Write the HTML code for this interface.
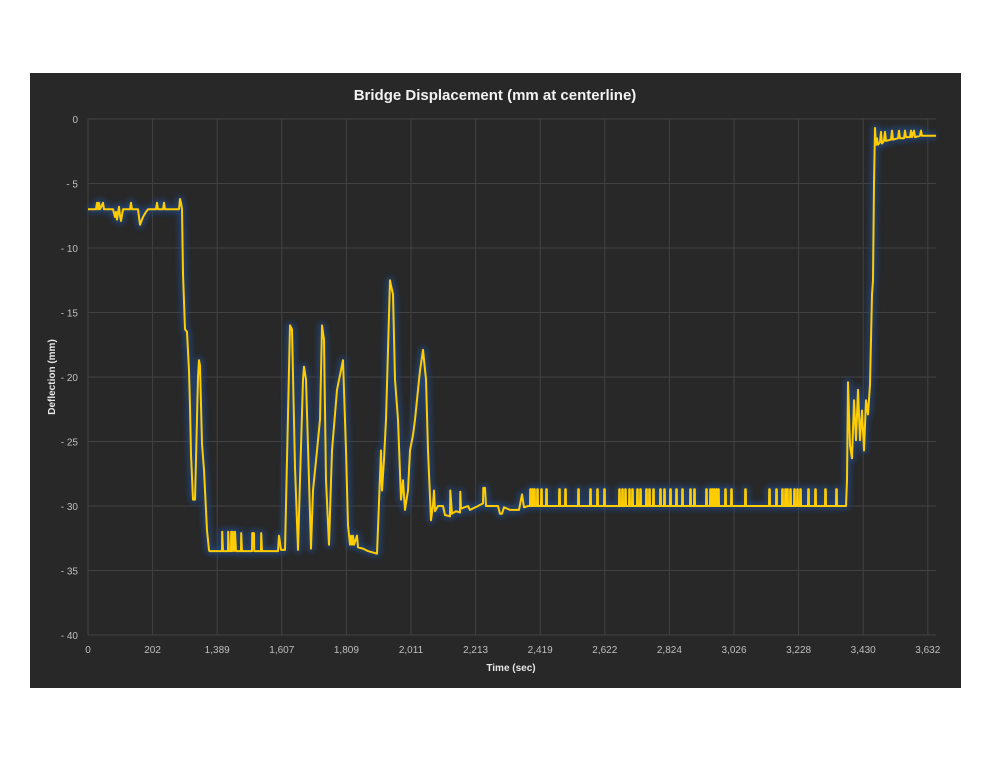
<!DOCTYPE html>
<html><head><meta charset="utf-8"><style>
html,body{margin:0;padding:0;background:#fff;width:991px;height:766px;overflow:hidden;font-family:"Liberation Sans",sans-serif}
</style></head><body>
<svg width="991" height="766" xmlns="http://www.w3.org/2000/svg">
<defs><filter id="glow" x="-10%" y="-10%" width="120%" height="120%"><feGaussianBlur stdDeviation="3"/></filter></defs>
<rect x="30" y="73" width="931" height="615" fill="#282828"/>
<text x="495" y="100" text-anchor="middle" fill="#f2f2f2" font-size="15" font-weight="bold">Bridge Displacement (mm at centerline)</text>
<g id="grid"></g>
<g id="yt"></g>
<g id="xt"></g>
<text transform="translate(55,377) rotate(-90)" text-anchor="middle" fill="#e6e6e6" font-size="10" font-weight="bold">Deflection (mm)</text>
<text x="511" y="671" text-anchor="middle" fill="#e6e6e6" font-size="10" font-weight="bold">Time (sec)</text>
<g id="series"></g>
</svg>
<script>
const xTickLabels=["0","202","1,389","1,607","1,809","2,011","2,213","2,419","2,622","2,824","3,026","3,228","3,430","3,632"];
const yTicks=[0,-5,-10,-15,-20,-25,-30,-35,-40];
const xTickStep=64.6;
const xMax=848;
const basePoints=[[0,-7],[8,-7],[9,-6.5],[10,-7],[11,-6.5],[12,-7],[15,-6.5],[16,-7],[25,-7],[27,-7.6],[28,-7.2],[29,-7.8],[31,-6.8],[32,-7.5],[33,-7.9],[35,-7],[42,-7],[43,-6.5],[44,-7],[50,-7],[52,-8.2],[55,-7.6],[58,-7.2],[60,-7],[68,-7],[69,-6.5],[70,-7],[75,-7],[76,-6.5],[77,-7],[91,-7],[92,-6.2],[93,-6.5],[94,-7],[95,-12],[97,-16.3],[99,-16.5],[101,-19.5],[102,-22.3],[103,-26],[105,-29.5],[107,-29.5],[108,-26.4],[110,-20],[111,-18.7],[112,-19.1],[114,-25.2],[116,-27.2],[119,-31.9],[121,-33.4],
[121.5,-33.5],[134,-33.5],[134.2,-32],[135,-33.5],[140,-33.5],[140.2,-32],[141,-33.5],[143,-33.5],[143.2,-32],[144,-33.5],[145,-32],[146,-33.5],[147,-32],[148,-33.5],[153,-33.5],[153.2,-32.1],[154,-33.5],[164,-33.5],[164.2,-32.1],[166,-32.1],[166.2,-33.5],[173,-33.5],[173.2,-32.1],[174,-33.5],[190,-33.5],[191,-32.3],[193,-33.4],[197,-33.4],
[199,-26.4],[202,-16],[204,-16.3],[207,-27],[210,-33.4],[212,-28],[215,-20.2],[216,-19.2],[218,-20.2],[221,-28],[223,-33.3],[225,-28.8],[229,-25.7],[232,-23.3],[234,-16],[236,-17.1],[238,-28],[241,-33],[244,-25.7],[249,-21],[255,-18.7],[258,-25.7],[260,-31.5],[262,-33],[263,-32.3],[264,-33],[265,-32.3],[266,-33],[269,-32.3],[270,-33.2],[275,-33.3],[280,-33.5],[289,-33.7],[293,-25.7],[294,-28.8],[296,-26.4],[298,-23.3],[302,-12.5],[303,-12.9],[305,-13.6],[307,-20.2],[310,-23.3],[313,-29.5],[315,-28],[317,-30.3],[320,-28.8],[322,-25.7],[325,-24.5],[327,-23.3],[330,-21],[332,-19.5],[335,-17.9],[338,-20.2],[340,-25.7],[343,-31.1],[345,-29.9],[346,-28.8],[347,-30.4],[350,-30],[355,-30],[357,-30.7],[362,-30.8],[362.3,-28.8],[364,-30.6],[368,-30.4],[372,-30.5],[372.3,-28.9],[373,-30.2],[380,-30],[382,-30.3],[390,-30],[395,-29.8],[395.3,-28.6],[397,-28.6],[398,-30],[410,-30],[412,-30.6],[414,-30.6],[416,-30.1],[422,-30.3],[431,-30.3],[434,-29.1],[436,-30.1],[440,-30],
[758,-30],[759,-28],[760,-20.4],[762,-25.3],[764,-26.3],[766,-21.8],[768,-24.9],[770,-21],[772,-24.9],[774,-22.6],[776,-25.7],[778,-21.8],[780,-22.9],[782,-20.6],[784,-13.6],[785,-12.5],[786,-5],[787,-0.7],[788,-2],[789,-1.5],[790,-2],[792,-1.8],[793,-1],[794,-1.9],[796,-1.7],[797,-1],[798,-1.7],[803,-1.6],[804,-0.9],[805,-1.6],[810,-1.5],[811,-0.9],[812,-1.5],[816,-1.5],[817,-0.9],[818,-1.4],[822,-1.4],[823,-0.9],[824,-1.4],[826,-0.9],[827,-1.4],[832,-1.3],[833,-0.9],[834,-1.3],[848,-1.3]];
const spikeX=[442,444,446,449,453,458,471,477,490,502,509,516,531,534,537,541,544,549,552,558,561,565,572,576,582,588,594,602,606,618,622,624,626,628,630,637,643,657,681,688,694,697,699,702,706,709,712,720,727,737,748];
const spikeBase=-30, spikeTop=-28.7;
const L=88,R=936,T=119,B=635;
const sx=v=>L+v*(R-L)/xMax;
const sy=v=>T+(0-v)*(B-T)/40;
const NS="http://www.w3.org/2000/svg";
function mk(tag,attrs,parent){const e=document.createElementNS(NS,tag);for(const k in attrs)e.setAttribute(k,attrs[k]);parent.appendChild(e);return e;}
const grid=document.getElementById('grid'),yt=document.getElementById('yt'),xt=document.getElementById('xt'),ser=document.getElementById('series');
yTicks.forEach(v=>{
 const ln=mk('line',{x1:L,x2:R,y1:sy(v),y2:sy(v),stroke:'#424242','stroke-width':1},grid);
 
 
 const t=mk('text',{x:L-10,y:sy(v)+4,'text-anchor':'end',fill:'#bfbfbf','font-size':10},yt);
 t.textContent=String(v).replace('-','- ');
 
 
});
xTickLabels.forEach((lab,i)=>{
 const x=sx(i*xTickStep);
 const ln=mk('line',{x1:x,x2:x,y1:T,y2:B,stroke:'#424242','stroke-width':1},grid);
 
 
 const t=mk('text',{x:x,y:653,'text-anchor':'middle',fill:'#bfbfbf','font-size':10},xt);
 t.textContent=lab;
 
 
});
let pts=basePoints.slice();
spikeX.forEach(x=>{pts.push([x,spikeBase],[x+0.2,spikeTop],[x+0.8,spikeTop],[x+1,spikeBase]);});
pts.sort((a,b)=>a[0]-b[0]);
const d=pts.map((p,i)=>(i?'L':'M')+sx(p[0]).toFixed(1)+','+sy(p[1]).toFixed(1)).join('');
const g=mk('path',{d:d,fill:'none',stroke:'#24457a','stroke-width':7,'stroke-linejoin':'round',filter:'url(#glow)',opacity:0.9},ser);


const p=mk('path',{d:d,fill:'none',stroke:'#ffcc00','stroke-width':2,'stroke-linejoin':'round'},ser);


</script>
</body></html>
